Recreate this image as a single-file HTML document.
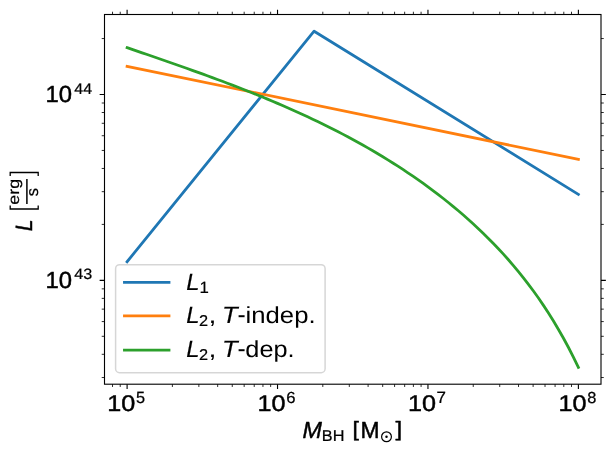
<!DOCTYPE html>
<html lang="en"><head><meta charset="utf-8"><title>L vs M_BH</title>
<style>html,body{margin:0;padding:0;background:#fff;overflow:hidden;}svg{display:block;will-change:transform;}text{font-family:"Liberation Sans",sans-serif;fill:#000;font-kerning:none;text-rendering:geometricPrecision;}</style></head>
<body>
<svg width="616" height="454" viewBox="0 0 616 454">
<rect x="0" y="0" width="616" height="454" fill="#ffffff"/>
<clipPath id="ax"><rect x="104.5" y="14.5" width="496.5" height="369.7"/></clipPath>
<g clip-path="url(#ax)" fill="none" stroke-width="2.78" stroke-linejoin="round" stroke-linecap="square">
<path d="M127.10 261.7 L314.10 31.20 L578.39 194.46" stroke="#1f77b4"/>
<path d="M127.10 66.3 L578.39 159.3" stroke="#ff7f0e"/>
<path d="M127.10 47.66 L132.11 49.38 L137.13 51.10 L142.14 52.82 L147.16 54.55 L152.17 56.28 L157.19 58.01 L162.20 59.74 L167.21 61.49 L172.23 63.23 L177.24 64.99 L182.26 66.76 L187.27 68.53 L192.29 70.32 L197.30 72.12 L202.31 73.93 L207.33 75.75 L212.34 77.59 L217.36 79.45 L222.37 81.32 L227.39 83.21 L232.40 85.12 L237.42 87.06 L242.43 89.01 L247.44 90.98 L252.46 92.98 L257.47 95.00 L262.49 97.04 L267.50 99.12 L272.52 101.22 L277.53 103.35 L282.54 105.50 L287.56 107.69 L292.57 109.92 L297.59 112.17 L302.60 114.46 L307.62 116.78 L312.63 119.14 L317.64 121.54 L322.66 123.98 L327.67 126.46 L332.69 128.98 L337.70 131.54 L342.72 134.14 L347.73 136.80 L352.75 139.50 L357.76 142.25 L362.77 145.04 L367.79 147.89 L372.80 150.80 L377.82 153.76 L382.83 156.77 L387.85 159.85 L392.86 162.99 L397.87 166.19 L402.89 169.45 L407.90 172.79 L412.92 176.19 L417.93 179.67 L422.95 183.22 L427.96 186.85 L432.97 190.57 L437.99 194.37 L443.00 198.26 L448.02 202.25 L453.03 206.33 L458.05 210.52 L463.06 214.81 L468.07 219.22 L473.09 223.75 L478.10 228.41 L483.12 233.20 L488.13 238.14 L493.15 243.23 L498.16 248.48 L503.18 253.90 L508.19 259.50 L513.20 265.30 L518.22 271.32 L523.23 277.55 L528.25 284.03 L533.26 290.77 L538.28 297.79 L543.29 305.12 L548.30 312.77 L553.32 320.78 L558.33 329.18 L563.35 337.99 L568.36 347.26 L573.38 357.03 L578.39 367.34" stroke="#2ca02c"/>
</g>
<g stroke="#000" fill="none">
<path d="M127.10 384.2v4.86M127.10 14.5v-4.86M277.53 384.2v4.86M277.53 14.5v-4.86M427.96 384.2v4.86M427.96 14.5v-4.86M578.39 384.2v4.86M578.39 14.5v-4.86M104.5 280.35h-4.86M601.0 280.35h4.86M104.5 94.50h-4.86M601.0 94.50h4.86" stroke-width="1.11"/>
<path d="M112.52 384.2v2.78M112.52 14.5v-2.78M120.22 384.2v2.78M120.22 14.5v-2.78M172.38 384.2v2.78M172.38 14.5v-2.78M198.87 384.2v2.78M198.87 14.5v-2.78M217.67 384.2v2.78M217.67 14.5v-2.78M232.25 384.2v2.78M232.25 14.5v-2.78M244.16 384.2v2.78M244.16 14.5v-2.78M254.23 384.2v2.78M254.23 14.5v-2.78M262.95 384.2v2.78M262.95 14.5v-2.78M270.65 384.2v2.78M270.65 14.5v-2.78M322.81 384.2v2.78M322.81 14.5v-2.78M349.30 384.2v2.78M349.30 14.5v-2.78M368.10 384.2v2.78M368.10 14.5v-2.78M382.68 384.2v2.78M382.68 14.5v-2.78M394.59 384.2v2.78M394.59 14.5v-2.78M404.66 384.2v2.78M404.66 14.5v-2.78M413.38 384.2v2.78M413.38 14.5v-2.78M421.08 384.2v2.78M421.08 14.5v-2.78M473.24 384.2v2.78M473.24 14.5v-2.78M499.73 384.2v2.78M499.73 14.5v-2.78M518.53 384.2v2.78M518.53 14.5v-2.78M533.11 384.2v2.78M533.11 14.5v-2.78M545.02 384.2v2.78M545.02 14.5v-2.78M555.09 384.2v2.78M555.09 14.5v-2.78M563.81 384.2v2.78M563.81 14.5v-2.78M571.51 384.2v2.78M571.51 14.5v-2.78M104.5 377.53h-2.78M601.0 377.53h2.78M104.5 354.31h-2.78M601.0 354.31h2.78M104.5 336.30h-2.78M601.0 336.30h2.78M104.5 321.58h-2.78M601.0 321.58h2.78M104.5 309.14h-2.78M601.0 309.14h2.78M104.5 298.36h-2.78M601.0 298.36h2.78M104.5 288.85h-2.78M601.0 288.85h2.78M104.5 224.40h-2.78M601.0 224.40h2.78M104.5 191.68h-2.78M601.0 191.68h2.78M104.5 168.46h-2.78M601.0 168.46h2.78M104.5 150.45h-2.78M601.0 150.45h2.78M104.5 135.73h-2.78M601.0 135.73h2.78M104.5 123.29h-2.78M601.0 123.29h2.78M104.5 112.51h-2.78M601.0 112.51h2.78M104.5 103.00h-2.78M601.0 103.00h2.78M104.5 38.55h-2.78M601.0 38.55h2.78" stroke-width="0.83"/>
<rect x="104.5" y="14.5" width="496.5" height="369.7" stroke-width="1.11"/>
</g>
<text transform="matrix(1.2587 0 0 1.1299 107.182 410.579)" font-size="20" stroke="#000" stroke-width="0.4" vector-effect="non-scaling-stroke" stroke-linejoin="round">10</text>
<text transform="matrix(0.8120 0 0 0.8097 135.900 402.692)" font-size="20" stroke="#000" stroke-width="0.3" vector-effect="non-scaling-stroke" stroke-linejoin="round">5</text>
<text transform="matrix(1.2587 0 0 1.1299 257.612 410.579)" font-size="20" stroke="#000" stroke-width="0.4" vector-effect="non-scaling-stroke" stroke-linejoin="round">10</text>
<text transform="matrix(0.8344 0 0 0.7980 286.133 402.694)" font-size="20" stroke="#000" stroke-width="0.3" vector-effect="non-scaling-stroke" stroke-linejoin="round">6</text>
<text transform="matrix(1.2587 0 0 1.1299 408.042 410.579)" font-size="20" stroke="#000" stroke-width="0.4" vector-effect="non-scaling-stroke" stroke-linejoin="round">10</text>
<text transform="matrix(0.8469 0 0 0.8212 436.542 402.850)" font-size="20" stroke="#000" stroke-width="0.3" vector-effect="non-scaling-stroke" stroke-linejoin="round">7</text>
<text transform="matrix(1.2587 0 0 1.1299 558.472 410.579)" font-size="20" stroke="#000" stroke-width="0.4" vector-effect="non-scaling-stroke" stroke-linejoin="round">10</text>
<text transform="matrix(0.8205 0 0 0.7980 587.127 402.694)" font-size="20" stroke="#000" stroke-width="0.3" vector-effect="non-scaling-stroke" stroke-linejoin="round">8</text>
<text transform="matrix(1.1935 0 0 1.1582 45.582 287.924)" font-size="20" stroke="#000" stroke-width="0.4" vector-effect="non-scaling-stroke" stroke-linejoin="round">10</text>
<text transform="matrix(0.8083 0 0 0.7486 74.279 279.454)" font-size="20" stroke="#000" stroke-width="0.3" vector-effect="non-scaling-stroke" stroke-linejoin="round">43</text>
<text transform="matrix(1.1935 0 0 1.1582 45.582 102.074)" font-size="20" stroke="#000" stroke-width="0.4" vector-effect="non-scaling-stroke" stroke-linejoin="round">10</text>
<text transform="matrix(0.7971 0 0 0.7704 74.284 93.750)" font-size="20" stroke="#000" stroke-width="0.3" vector-effect="non-scaling-stroke" stroke-linejoin="round">44</text>
<text transform="matrix(1.1655 0 0 1.1628 302.483 437.800)" font-size="20" font-style="italic" stroke="#000" stroke-width="0.4" vector-effect="non-scaling-stroke" stroke-linejoin="round">M</text>
<text transform="matrix(0.8119 0 0 0.7849 321.818 441.450)" font-size="20" stroke="#000" stroke-width="0.3" vector-effect="non-scaling-stroke" stroke-linejoin="round">BH</text>
<text transform="matrix(1.1573 0 0 1.0353 352.450 436.203)" font-size="20" stroke="#000" stroke-width="0.4" vector-effect="non-scaling-stroke" stroke-linejoin="round">[</text>
<text transform="matrix(1.1436 0 0 1.1628 360.424 437.800)" font-size="20" stroke="#000" stroke-width="0.4" vector-effect="non-scaling-stroke" stroke-linejoin="round">M</text>
<circle cx="386.5" cy="436.75" r="4.9" fill="none" stroke="#000" stroke-width="1.2"/><circle cx="386.5" cy="436.75" r="1.25" fill="#000"/>
<text transform="matrix(1.2077 0 0 1.0353 395.511 436.203)" font-size="20" stroke="#000" stroke-width="0.4" vector-effect="non-scaling-stroke" stroke-linejoin="round">]</text>
<text transform="matrix(0 -1.0646 1.1773 0 31.800 231.255)" font-size="20" font-style="italic" stroke="#000" stroke-width="0.4" vector-effect="non-scaling-stroke" stroke-linejoin="round">L</text>
<path d="M10.2 176.1V172.5H38.2V176.1M10.2 205.4V209.0H38.2V205.4" stroke="#000" stroke-width="1.3" fill="none"/>
<text transform="matrix(0 -0.8873 0.7745 0 18.560 204.629)" font-size="20" stroke="#000" stroke-width="0.25" vector-effect="non-scaling-stroke" stroke-linejoin="round">erg</text>
<path d="M26.9 179.1V203.9" stroke="#000" stroke-width="1.5" fill="none"/>
<text transform="matrix(0 -0.8199 0.8282 0 37.813 196.131)" font-size="20" stroke="#000" stroke-width="0.25" vector-effect="non-scaling-stroke" stroke-linejoin="round">s</text>
<rect x="115.6" y="264.7" width="209.5" height="108.0" rx="4" ry="4" fill="#ffffff" fill-opacity="0.8" stroke="#cccccc" stroke-opacity="0.8" stroke-width="1.5"/>
<path d="M123.05 282.35H170.4" stroke="#1f77b4" stroke-width="2.78" fill="none"/>
<path d="M123.05 315.9H170.4" stroke="#ff7f0e" stroke-width="2.78" fill="none"/>
<path d="M123.05 350.2H170.4" stroke="#2ca02c" stroke-width="2.78" fill="none"/>
<text transform="matrix(1.1908 0 0 1.1810 186.342 289.925)" font-size="20" font-style="italic" stroke="#000" stroke-width="0.15" vector-effect="non-scaling-stroke" stroke-linejoin="round">L</text>
<text transform="matrix(0.8408 0 0 0.8103 199.444 293.375)" font-size="20" stroke="#000" stroke-width="0.25" vector-effect="non-scaling-stroke" stroke-linejoin="round">1</text>
<text transform="matrix(1.1908 0 0 1.1810 186.342 322.625)" font-size="20" font-style="italic" stroke="#000" stroke-width="0.15" vector-effect="non-scaling-stroke" stroke-linejoin="round">L</text>
<text transform="matrix(0.8177 0 0 0.7841 199.103 326.175)" font-size="20" stroke="#000" stroke-width="0.25" vector-effect="non-scaling-stroke" stroke-linejoin="round">2</text>
<text transform="matrix(1.4265 0 0 1.1283 208.437 322.613)" font-size="20">,</text>
<text transform="matrix(1.2800 0 0 1.1810 222.075 322.625)" font-size="20" font-style="italic" stroke="#000" stroke-width="0.15" vector-effect="non-scaling-stroke" stroke-linejoin="round">T</text>
<text transform="matrix(1.2288 0 0 1.2800 237.408 322.800)" font-size="20">-</text>
<text transform="matrix(1.2839 0 0 1.1640 245.582 322.569)" font-size="20">indep.</text>
<text transform="matrix(1.1908 0 0 1.1810 186.342 356.925)" font-size="20" font-style="italic" stroke="#000" stroke-width="0.15" vector-effect="non-scaling-stroke" stroke-linejoin="round">L</text>
<text transform="matrix(0.8177 0 0 0.7841 199.103 360.475)" font-size="20" stroke="#000" stroke-width="0.25" vector-effect="non-scaling-stroke" stroke-linejoin="round">2</text>
<text transform="matrix(1.4265 0 0 1.1283 208.437 356.913)" font-size="20">,</text>
<text transform="matrix(1.2800 0 0 1.1810 222.075 356.925)" font-size="20" font-style="italic" stroke="#000" stroke-width="0.15" vector-effect="non-scaling-stroke" stroke-linejoin="round">T</text>
<text transform="matrix(1.2288 0 0 1.2800 237.408 357.100)" font-size="20">-</text>
<text transform="matrix(1.2659 0 0 1.1640 245.337 356.869)" font-size="20">dep.</text>
</svg></body></html>
